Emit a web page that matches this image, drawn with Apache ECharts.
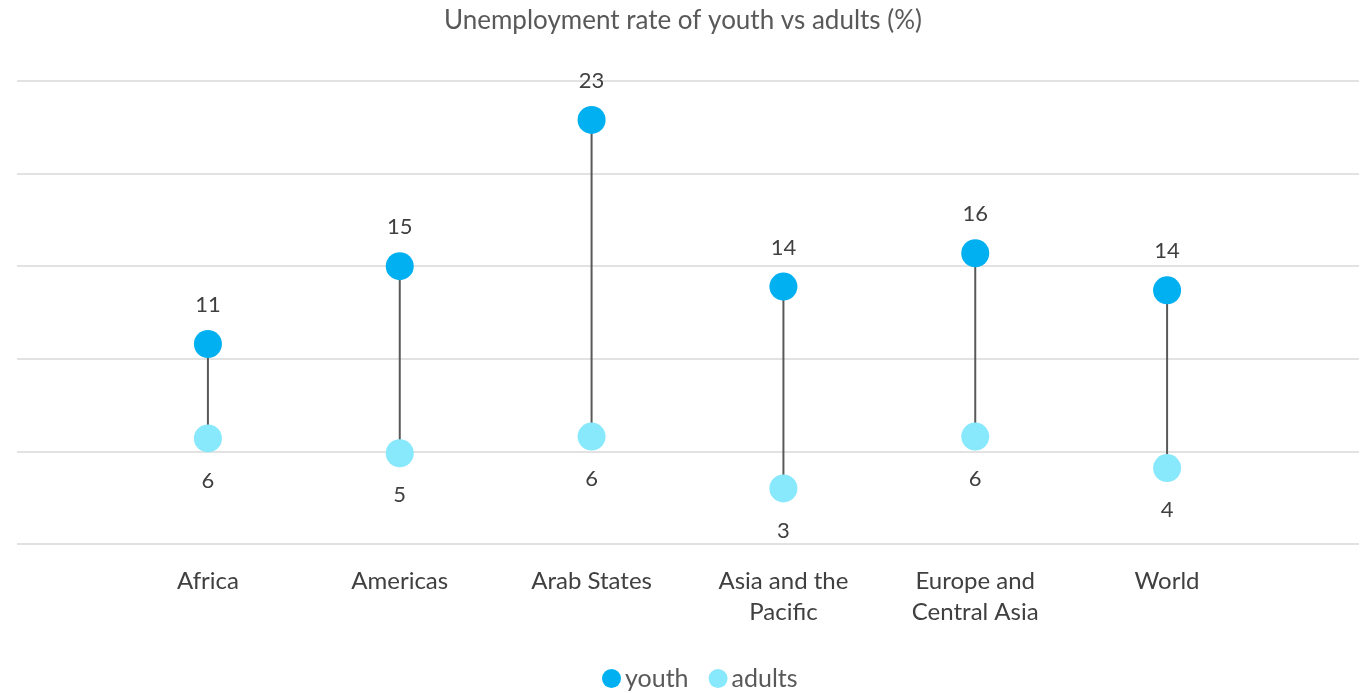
<!DOCTYPE html>
<html>
<head>
<meta charset="utf-8">
<title>Unemployment rate of youth vs adults (%)</title>
<script src="https://cdn.jsdelivr.net/npm/echarts@6/dist/echarts.min.js"></script>
<style>
  html, body { margin: 0; padding: 0; background: #ffffff; }
  #chart { width: 1366px; height: 693px; }
</style>
</head>
<body>
<div id="chart"></div>
<script>
// Regions along the horizontal axis
const regions = ['Africa', 'Americas', 'Arab States', 'Asia and the\nPacific', 'Europe and\nCentral Asia', 'World'];
// Unemployment rate (%) for youth and adults per region
const youth = [10.8, 15.0, 22.9, 13.9, 15.7, 13.7];
const adults = [5.7, 4.9, 5.8, 3.0, 5.8, 4.1];
// Value axis ticks
const yMin = 0, yMax = 25, yStep = 5;

const FONT = 'Lato, "Open Sans", sans-serif';
const TEXT = '#404040';
const YOUTH_COLOR = '#00B0F0';
const ADULT_COLOR = '#88E8FC';

const chart = echarts.init(document.getElementById('chart'), null, { renderer: 'canvas' });

const gridTop = 81, gridBottom = 149;

chart.setOption({
  backgroundColor: '#ffffff',
  animation: false,
  textStyle: { fontFamily: FONT },
  title: {
    text: 'Unemployment rate of youth vs adults (%)',
    left: 'center',
    top: 3,
    textStyle: { fontFamily: FONT, fontSize: 26, fontWeight: 'normal', color: '#595959' }
  },
  legend: {
    top: 661,
    left: 597,
    icon: 'circle',
    itemWidth: 19,
    itemHeight: 19,
    itemGap: 20,
    textStyle: { fontFamily: FONT, fontSize: 25, color: '#595959', padding: [0, 0, 0, -1] },
    data: ['youth', 'adults']
  },
  grid: [
    // full-width grid carrying the horizontal gridlines
    { left: 17, right: 7, top: gridTop, bottom: gridBottom },
    // category grid carrying the marks
    { left: 112, right: 103, top: gridTop, bottom: gridBottom }
  ],
  xAxis: [
    { gridIndex: 0, type: 'value', show: false, min: 0, max: 1 },
    {
      gridIndex: 1,
      type: 'category',
      data: regions,
      boundaryGap: true,
      axisLine: { show: false },
      axisTick: { show: false },
      splitLine: { show: false },
      axisLabel: {
        margin: 22,
        fontFamily: FONT,
        fontSize: 24,
        lineHeight: 31,
        color: TEXT,
        interval: 0
      }
    }
  ],
  yAxis: [
    {
      gridIndex: 0,
      type: 'value',
      min: yMin, max: yMax, interval: yStep,
      axisLine: { show: false },
      axisTick: { show: false },
      axisLabel: { show: false },
      splitLine: { lineStyle: { color: '#d9d9d9', width: 1.5 } }
    },
    {
      gridIndex: 1,
      type: 'value',
      min: yMin, max: yMax, interval: yStep,
      axisLine: { show: false },
      axisTick: { show: false },
      axisLabel: { show: false },
      splitLine: { show: false }
    }
  ],
  series: [
    {
      // connector between the youth and adult rate of each region
      name: 'gap',
      type: 'custom',
      xAxisIndex: 1,
      yAxisIndex: 1,
      silent: true,
      z: 1,
      data: regions.map((r, i) => [i, youth[i], adults[i]]),
      renderItem: function (params, api) {
        const top = api.coord([api.value(0), api.value(1)]);
        const bot = api.coord([api.value(0), api.value(2)]);
        return {
          type: 'line',
          shape: { x1: top[0], y1: top[1], x2: bot[0], y2: bot[1] },
          style: { stroke: '#595959', lineWidth: 2 }
        };
      }
    },
    {
      name: 'youth',
      type: 'scatter',
      xAxisIndex: 1,
      yAxisIndex: 1,
      z: 3,
      symbol: 'circle',
      symbolSize: 28,
      itemStyle: { color: YOUTH_COLOR, opacity: 1 },
      data: youth,
      label: {
        show: true,
        position: 'top',
        distance: 14,
        fontFamily: FONT,
        fontSize: 22,
        color: TEXT,
        formatter: p => Math.round(p.value)
      }
    },
    {
      name: 'adults',
      type: 'scatter',
      xAxisIndex: 1,
      yAxisIndex: 1,
      z: 3,
      symbol: 'circle',
      symbolSize: 28,
      itemStyle: { color: ADULT_COLOR, opacity: 1 },
      data: adults,
      label: {
        show: true,
        position: 'bottom',
        distance: 17,
        fontFamily: FONT,
        fontSize: 22,
        color: TEXT,
        formatter: p => Math.round(p.value)
      }
    }
  ]
});
</script>
</body>
</html>
